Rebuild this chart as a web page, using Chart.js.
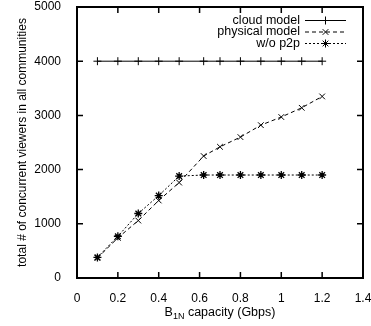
<!DOCTYPE html>
<html>
<head>
<meta charset="utf-8">
<script src="https://cdn.jsdelivr.net/npm/chart.js@4/dist/chart.umd.min.js"></script>
<style>
  html, body { margin: 0; padding: 0; background: #fff; }
  #wrap { width: 371px; height: 326px; position: relative; }
</style>
</head>
<body>
<div id="wrap"><canvas id="myChart"></canvas></div>
<script>
// capacity of B_1N link (Gbps)
const capacity = [0.1, 0.2, 0.3, 0.4, 0.5, 0.62, 0.7, 0.8, 0.9, 1.0, 1.1, 1.2];
const cloudModel = [4000, 4000, 4000, 4000, 4000, 4000, 4000, 4000, 4000, 4000, 4000, 4000];
const physicalModel = [370, 740, 1060, 1430, 1760, 2250, 2420, 2600, 2820, 2970, 3140, 3350];
const withoutP2p = [380, 770, 1190, 1520, 1880, 1900, 1900, 1900, 1900, 1900, 1900, 1900];
const xTicks = [0, 0.2, 0.4, 0.6, 0.8, 1, 1.2, 1.4];
const yTicks = [0, 1000, 2000, 3000, 4000, 5000];

const FONT = 'Liberation Sans, Arial, Helvetica, sans-serif';

function pairs(ys) {
  return capacity.map((x, i) => ({ x: x, y: ys[i] }));
}

// gnuplot-like frame with inward ticks, legend and x title with subscript
const gnuplotLook = {
  id: 'gnuplotLook',
  afterDraw(chart) {
    const ctx = chart.ctx;
    const area = chart.chartArea;
    const xs = chart.scales.x, ys = chart.scales.y;
    ctx.save();
    ctx.strokeStyle = '#000';
    ctx.setLineDash([]);

    // ticks
    ctx.lineWidth = 1.5;
    ctx.beginPath();
    xTicks.forEach(v => {
      const px = xs.getPixelForValue(v);
      ctx.moveTo(px, area.bottom); ctx.lineTo(px, area.bottom - 6);
      ctx.moveTo(px, area.top); ctx.lineTo(px, area.top + 6);
    });
    yTicks.forEach(v => {
      const py = ys.getPixelForValue(v);
      ctx.moveTo(area.left, py); ctx.lineTo(area.left + 6, py);
      ctx.moveTo(area.right, py); ctx.lineTo(area.right - 6, py);
    });
    ctx.stroke();

    // frame
    ctx.lineWidth = 2;
    ctx.strokeRect(area.left, area.top, area.right - area.left, area.bottom - area.top);

    // legend
    ctx.font = '12.5px ' + FONT;
    ctx.fillStyle = '#000';
    ctx.textAlign = 'right';
    ctx.textBaseline = 'middle';
    const rowY = [20.5, 32, 43.5];
    chart.data.datasets.forEach((ds, i) => {
      const y = rowY[i];
      ctx.fillText(ds.label, 300, y);
      ctx.lineWidth = 1;
      ctx.setLineDash(ds.borderDash || []);
      ctx.beginPath();
      ctx.moveTo(305, y); ctx.lineTo(346, y);
      ctx.stroke();
      ctx.setLineDash([]);
      Chart.helpers.drawPoint(ctx, {
        pointStyle: ds.pointStyle, radius: ds.pointRadius, rotation: 0, borderWidth: 1
      }, 325.5, y);
    });

    // x axis title: B_1N capacity (Gbps)
    const cx = (area.left + area.right) / 2;
    const base = 316;
    const big = '12.5px ' + FONT, small = '9px ' + FONT;
    ctx.textAlign = 'left';
    ctx.textBaseline = 'alphabetic';
    ctx.font = big; const wB = ctx.measureText('B').width;
    const rest = ' capacity (Gbps)'; const wR = ctx.measureText(rest).width;
    ctx.font = small; const wS = ctx.measureText('1N').width;
    let x0 = cx - (wB + wS + wR) / 2;
    ctx.font = big; ctx.fillText('B', x0, base);
    ctx.font = small; ctx.fillText('1N', x0 + wB, base + 3);
    ctx.font = big; ctx.fillText(rest, x0 + wB + wS, base);
    ctx.restore();
  }
};

const ctx = document.getElementById('myChart').getContext('2d');
const myChart = new Chart(ctx, {
  type: 'line',
  data: {
    datasets: [
      {
        label: 'cloud model',
        data: pairs(cloudModel),
        borderColor: '#000',
        borderWidth: 1,
        pointStyle: 'cross',
        pointRadius: 4,
        pointBorderColor: '#000',
        pointBorderWidth: 1,
        fill: false,
        tension: 0
      },
      {
        label: 'physical model',
        data: pairs(physicalModel),
        borderColor: '#000',
        borderWidth: 1,
        borderDash: [4, 3],
        pointStyle: 'crossRot',
        pointRadius: 4,
        pointBorderColor: '#000',
        pointBorderWidth: 1,
        fill: false,
        tension: 0
      },
      {
        label: 'w/o p2p',
        data: pairs(withoutP2p),
        borderColor: '#000',
        borderWidth: 1,
        borderDash: [2, 2],
        pointStyle: 'star',
        pointRadius: 4,
        pointBorderColor: '#000',
        pointBorderWidth: 1.3,
        fill: false,
        tension: 0
      }
    ]
  },
  options: {
    responsive: true,
    maintainAspectRatio: false,
    animation: false,
    layout: { padding: { top: 7, right: 8, left: 0, bottom: 0 } },
    plugins: {
      legend: { display: false },
      tooltip: { enabled: false }
    },
    scales: {
      x: {
        type: 'linear',
        min: 0,
        max: 1.4,
        afterBuildTicks: s => { s.ticks = xTicks.map(v => ({ value: v })); },
        afterFit: s => { s.height = 48; s.paddingLeft = 0; s.paddingRight = 0; },
        grid: { display: false },
        border: { display: false },
        ticks: {
          maxRotation: 0,
          autoSkip: false,
          padding: 5,
          color: '#000',
          font: { family: FONT, size: 12 },
          callback: v => String(+(+v).toFixed(1))
        }
      },
      y: {
        min: 0,
        max: 5000,
        afterBuildTicks: s => { s.ticks = yTicks.map(v => ({ value: v })); },
        afterFit: s => { s.width = 77; s.paddingTop = 0; s.paddingBottom = 0; },
        grid: { display: false },
        border: { display: false },
        ticks: {
          padding: 8,
          color: '#000',
          font: { family: FONT, size: 12 },
          callback: v => String(v)
        },
        title: {
          display: true,
          text: 'total # of concurrent viewers in all communities',
          color: '#000',
          font: { family: FONT, size: 12 },
          padding: { top: 15, bottom: 0 }
        }
      }
    }
  },
  plugins: [gnuplotLook]
});
</script>
</body>
</html>
